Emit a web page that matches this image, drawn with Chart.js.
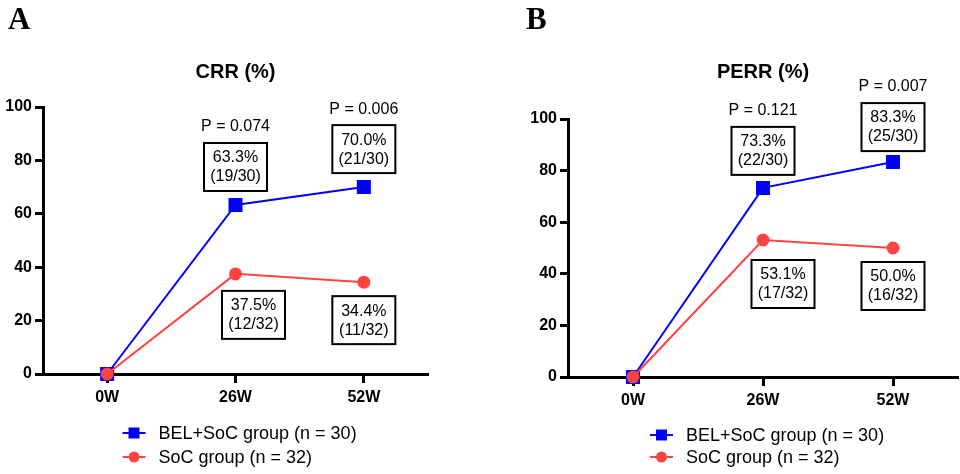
<!DOCTYPE html>
<html>
<head>
<meta charset="utf-8">
<script src="https://cdn.jsdelivr.net/npm/chart.js@4.4.0/dist/chart.umd.min.js"></script>
<style>
  html, body { margin: 0; padding: 0; background: #fff; }
  .panel { position: absolute; top: 0; width: 480px; height: 474px; }
  #panelA { left: 0; }
  #panelB { left: 480px; }
</style>
</head>
<body>
<div class="panel" id="panelA"><canvas id="crrChart" width="480" height="474"></canvas></div>
<div class="panel" id="panelB"><canvas id="perrChart" width="480" height="474"></canvas></div>
<script>
// categories and series
const weeks = ['0W', '26W', '52W'];
const seriesNames = ['BEL+SoC group (n = 30)', 'SoC group (n = 32)'];

const crrBel = [0, 63.3, 70.0];
const crrSoc = [0, 37.5, 34.4];
const crrBelCounts = [null, '19/30', '21/30'];
const crrSocCounts = [null, '12/32', '11/32'];
const crrPValues = [null, '0.074', '0.006'];

const perrBel = [0, 73.3, 83.3];
const perrSoc = [0, 53.1, 50.0];
const perrBelCounts = [null, '22/30', '25/30'];
const perrSocCounts = [null, '17/32', '16/32'];
const perrPValues = [null, '0.121', '0.007'];

const BLUE = '#0000ff';
const RED = '#ff4242';
const SANS = '"Liberation Sans", Arial, sans-serif';

// draws panel letter, boxed labels, p values and the legend
const panelDecor = {
  id: 'panelDecor',
  afterDraw(chart, args, opts) {
    const ctx = chart.ctx;
    const area = chart.chartArea;
    const xs = chart.scales.x, ys = chart.scales.y;
    ctx.save();

    ctx.fillStyle = '#000';
    ctx.font = 'bold 31px "Liberation Serif", serif';
    ctx.textAlign = 'left';
    ctx.textBaseline = 'alphabetic';
    ctx.fillText(opts.letter, opts.letterX, 29);

    ctx.font = '16px ' + SANS;
    ctx.textAlign = 'center';
    ctx.textBaseline = 'middle';
    ctx.strokeStyle = '#000';
    ctx.lineWidth = 2;
    opts.boxes.forEach(function (b) {
      b.values.forEach(function (v, i) {
        if (!b.counts[i]) return;
        let cx = xs.getPixelForValue(i) + b.dx[i];
        let cy = ys.getPixelForValue(v) + b.dy[i];
        ctx.strokeRect(cx - 31.5, cy - 24, 63, 48);
        ctx.fillText(v.toFixed(1) + '%', cx, cy - 9);
        ctx.fillText('(' + b.counts[i] + ')', cx, cy + 10);
        if (b.pValues) ctx.fillText('P = ' + b.pValues[i], cx, cy - 40);
      });
    });

    // legend
    let mid = (area.left + area.right) / 2;
    ctx.textAlign = 'left';
    ctx.font = '18px ' + SANS;
    chart.data.datasets.forEach(function (ds, i) {
      let ly = area.bottom + opts.legendY[i];
      let x0 = mid - 113, x1 = mid - 90, px = (x0 + x1) / 2;
      ctx.strokeStyle = ds.borderColor;
      ctx.lineWidth = 2;
      ctx.beginPath();
      ctx.moveTo(x0, ly);
      ctx.lineTo(x1, ly);
      ctx.stroke();
      ctx.fillStyle = ds.pointBackgroundColor;
      if (ds.pointStyle === 'rect') {
        ctx.fillRect(px - 5.5, ly - 5.5, 11, 11);
      } else {
        ctx.beginPath();
        ctx.arc(px, ly, 5.5, 0, Math.PI * 2);
        ctx.fill();
      }
      ctx.fillStyle = '#000';
      ctx.fillText(ds.label, mid - 77, ly + 1);
    });
    ctx.restore();
  }
};

function makeChart(id, title, bel, soc, cfg) {
  let ctx = document.getElementById(id).getContext('2d');
  return new Chart(ctx, {
    type: 'line',
    data: {
      labels: weeks,
      datasets: [{
        label: seriesNames[0],
        data: bel,
        borderColor: BLUE,
        backgroundColor: BLUE,
        pointBackgroundColor: BLUE,
        pointBorderColor: BLUE,
        pointStyle: 'rect',
        pointRadius: 8.5,
        borderWidth: 2,
        clip: false,
        order: 2
      }, {
        label: seriesNames[1],
        data: soc,
        borderColor: RED,
        backgroundColor: RED,
        pointBackgroundColor: RED,
        pointBorderColor: RED,
        pointStyle: 'circle',
        pointRadius: 5.5,
        borderWidth: 2,
        clip: false,
        order: 1
      }]
    },
    options: {
      responsive: false,
      animation: false,
      events: [],
      layout: {
        autoPadding: false,
        padding: { left: cfg.padLeft, right: cfg.padRight, top: 0, bottom: 0 }
      },
      plugins: {
        legend: { display: false },
        tooltip: { enabled: false },
        title: {
          display: true,
          text: title,
          fullSize: false,
          color: '#000',
          font: { family: SANS, size: 20, weight: 'bold' },
          padding: { top: 60, bottom: cfg.titleBottom }
        },
        panelDecor: cfg.decor
      },
      scales: {
        x: {
          offset: true,
          afterFit: function (s) {
            s.height = cfg.xHeight;
            s.paddingLeft = 0;
            s.paddingRight = 0;
          },
          grid: { drawOnChartArea: false, tickLength: 9, tickWidth: 3, tickColor: '#000', offset: false },
          border: { color: '#000', width: 3 },
          ticks: { color: '#000', padding: 5, font: { family: SANS, size: 16, weight: 'bold' } }
        },
        y: {
          min: 0,
          max: 100,
          afterFit: function (s) { s.width = 43; },
          grid: { drawOnChartArea: false, tickLength: 8, tickWidth: 3, tickColor: '#000' },
          border: { color: '#000', width: 3 },
          ticks: { stepSize: 20, color: '#000', padding: 3, font: { family: SANS, size: 16, weight: 'bold' } }
        }
      }
    },
    plugins: [panelDecor]
  });
}

makeChart('crrChart', 'CRR (%)', crrBel, crrSoc, {
  padLeft: 0, padRight: 52, titleBottom: 23, xHeight: 100,
  decor: {
    letter: 'A', letterX: 8, legendY: [59, 83],
    boxes: [
      { values: crrBel, counts: crrBelCounts, pValues: crrPValues, dx: [0, 0, 0], dy: [0, -38, -38] },
      { values: crrSoc, counts: crrSocCounts, dx: [0, 18, 0], dy: [0, 41, 38] }
    ]
  }
});

makeChart('perrChart', 'PERR (%)', perrBel, perrSoc, {
  padLeft: 45, padRight: 2, titleBottom: 35, xHeight: 97,
  decor: {
    letter: 'B', letterX: 46, legendY: [58, 80],
    boxes: [
      { values: perrBel, counts: perrBelCounts, pValues: perrPValues, dx: [0, 0, 0], dy: [0, -37, -35] },
      { values: perrSoc, counts: perrSocCounts, dx: [0, 20, 0], dy: [0, 44, 38] }
    ]
  }
});
</script>
</body>
</html>
